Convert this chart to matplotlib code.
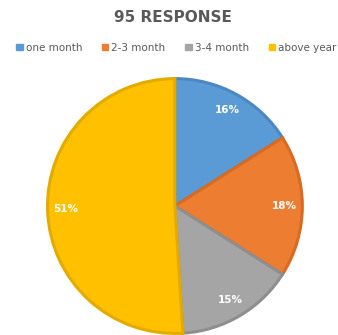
import matplotlib.pyplot as plt

categories = ["one month", "2-3 month", "3-4 month", "above year"]
shares = [16, 18, 15, 51]
colors = ["#5B9BD5", "#ED7D31", "#A5A5A5", "#FFC000"]
edges = ["#4A88C4", "#D86A22", "#8E8E8E", "#E3AA00"]

fig = plt.figure(figsize=(3.38, 3.35), dpi=100)
fig.patch.set_facecolor("white")

ax = fig.add_axes([0.133, -0.003, 0.769, 0.776])
wedges, texts, autotexts = ax.pie(
    shares, colors=colors, startangle=90, counterclock=False,
    autopct="%1.0f%%", pctdistance=0.86, radius=1,
    textprops=dict(color="white", fontsize=7.5, fontweight="bold"),
)
for w, ec in zip(wedges, edges):
    w.set_edgecolor(ec)
    w.set_linewidth(2.2)
ax.set_xlim(-1.02, 1.02)
ax.set_ylim(-1.02, 1.02)
ax.set_aspect("equal")
ax.axis("off")

fig.text(0.512, 0.948, "95 RESPONSE", ha="center", va="center",
         fontsize=11, fontweight="bold", color="#595959")

handles = [plt.Rectangle((0, 0), 1, 1, color=c) for c in colors]
fig.legend(handles, categories, loc="center", bbox_to_anchor=(0.522, 0.858),
           ncol=4, frameon=False, fontsize=7.5, handlelength=0.6,
           handleheight=0.6, handletextpad=0.3, columnspacing=1.9,
           labelcolor="#595959")

plt.savefig("out.png", dpi=100)
